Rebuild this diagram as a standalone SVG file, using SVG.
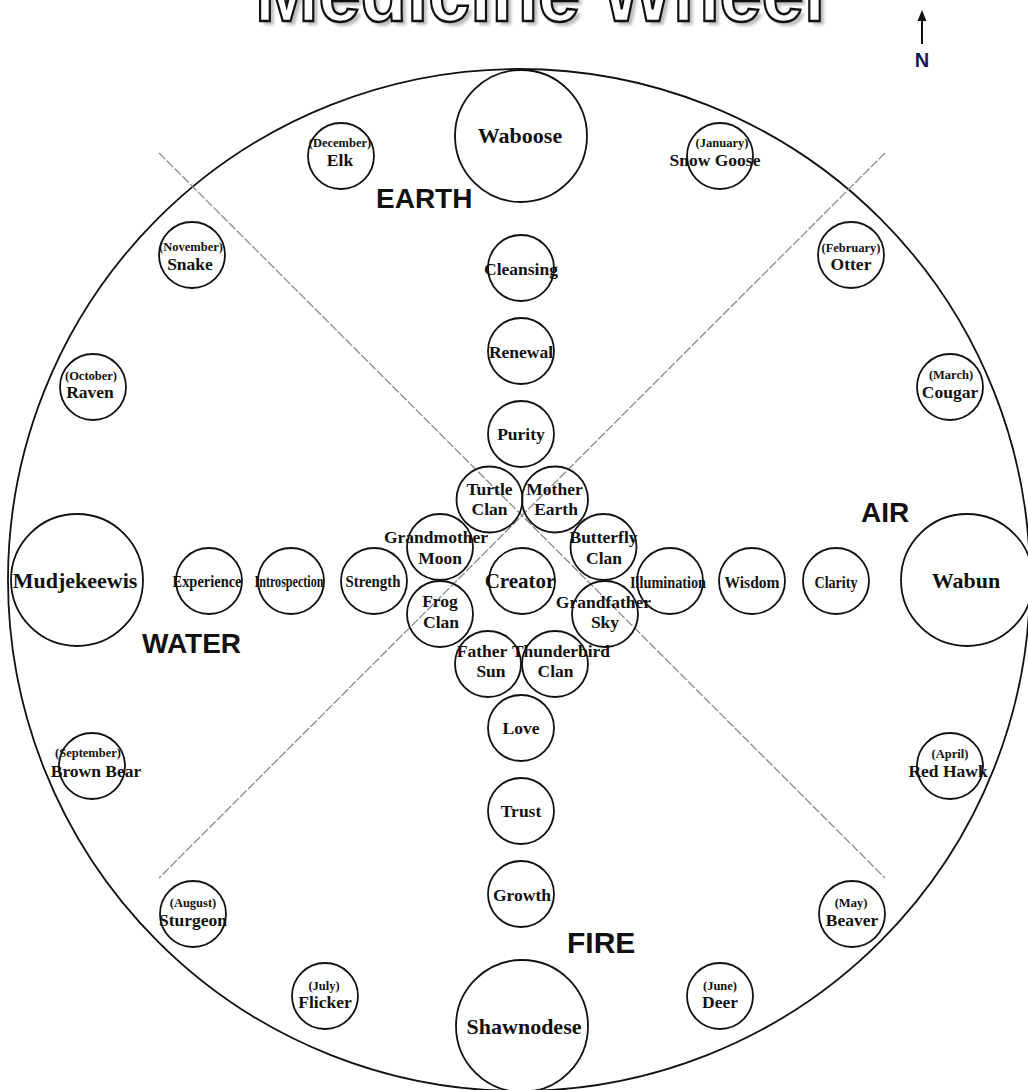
<svg xmlns="http://www.w3.org/2000/svg" width="1028" height="1090" viewBox="0 0 1028 1090">
<defs>
<style>
.c{fill:none;stroke:#111;stroke-width:1.8}
.t{font-family:"Liberation Serif","Times New Roman",serif;font-weight:bold;text-anchor:middle;fill:#111}
.big{font-size:22px}
.cl{font-size:17.5px}
.cr{font-size:21px}
.mo{font-size:12.5px}
.nm{font-size:17.5px}
.sq{font-size:17px}
.dir{font-family:"Liberation Sans",Arial,sans-serif;font-weight:bold;font-size:28px;fill:#111}
.ax{stroke:#8a8a8a;stroke-width:1.3;stroke-dasharray:9 2;fill:none}
.ttl{font-family:"Liberation Sans",Arial,sans-serif;font-weight:bold;font-size:86px;text-anchor:middle}
</style>
<filter id="blur" x="-5%" y="-20%" width="110%" height="140%"><feGaussianBlur stdDeviation="1.5"/></filter>
</defs>
<rect width="1028" height="1090" fill="#fff"/>

<g id="title">
<text class="ttl" x="544" y="25" fill="#bcbcbc" filter="url(#blur)" textLength="570" lengthAdjust="spacingAndGlyphs">Medicine Wheel</text>
<text class="ttl" x="540" y="21" fill="#fff" stroke="#111" stroke-width="2.5" textLength="570" lengthAdjust="spacingAndGlyphs">Medicine Wheel</text>
</g>

<g id="north">
<line x1="922" y1="44" x2="922" y2="18" stroke="#111" stroke-width="2"/>
<path d="M917.5,21 L922,10 L926.5,21 Z" fill="#111"/>
<text x="922" y="67" font-family="Liberation Sans,Arial,sans-serif" font-weight="bold" font-size="20" text-anchor="middle" fill="#16165c">N</text>
</g>

<g id="wheel">
<circle class="c" cx="519" cy="580" r="511"/>
</g>

<g id="connectors">
<line class="ax" x1="159" y1="153" x2="885" y2="878"/>
<line class="ax" x1="885" y1="153" x2="159" y2="878"/>
</g>

<g id="directions">
<text class="dir" x="376" y="208">EARTH</text>
<text class="dir" x="142" y="653">WATER</text>
<text class="dir" x="567" y="953" style="font-size:30px">FIRE</text>
<text class="dir" x="861" y="522">AIR</text>
</g>

<g id="waboose"><circle class="c" cx="521" cy="136" r="66"/><text class="t big" x="520" y="143">Waboose</text></g>
<g id="shawnodese"><circle class="c" cx="522" cy="1026" r="66"/><text class="t big" x="524" y="1034">Shawnodese</text></g>
<g id="mudjekeewis"><circle class="c" cx="77" cy="580" r="66"/><text class="t big" x="75" y="588">Mudjekeewis</text></g>
<g id="wabun"><circle class="c" cx="967" cy="580" r="66"/><text class="t big" x="966" y="588">Wabun</text></g>

<g id="elk"><circle class="c" cx="341" cy="156" r="33"/><text class="t mo" x="340" y="147">(December)</text><text class="t nm" x="340" y="166">Elk</text></g>
<g id="snowgoose"><circle class="c" cx="720" cy="156" r="33"/><text class="t mo" x="722" y="147">(January)</text><text class="t nm" x="715" y="166">Snow Goose</text></g>
<g id="snake"><circle class="c" cx="192" cy="255" r="33"/><text class="t mo" x="191" y="251">(November)</text><text class="t nm" x="190" y="270">Snake</text></g>
<g id="otter"><circle class="c" cx="851" cy="255" r="33"/><text class="t mo" x="851" y="252">(February)</text><text class="t nm" x="851" y="270">Otter</text></g>
<g id="raven"><circle class="c" cx="93" cy="387" r="33"/><text class="t mo" x="91" y="380">(October)</text><text class="t nm" x="90" y="398">Raven</text></g>
<g id="cougar"><circle class="c" cx="950" cy="387" r="33"/><text class="t mo" x="951" y="379">(March)</text><text class="t nm" x="950" y="398">Cougar</text></g>
<g id="brownbear"><circle class="c" cx="92" cy="766" r="33"/><text class="t mo" x="88" y="757">(September)</text><text class="t nm" x="96" y="777">Brown Bear</text></g>
<g id="redhawk"><circle class="c" cx="950" cy="766" r="33"/><text class="t mo" x="950" y="758">(April)</text><text class="t nm" x="948" y="777">Red Hawk</text></g>
<g id="sturgeon"><circle class="c" cx="193" cy="914" r="33"/><text class="t mo" x="193" y="907">(August)</text><text class="t nm" x="193" y="926">Sturgeon</text></g>
<g id="beaver"><circle class="c" cx="852" cy="914" r="33"/><text class="t mo" x="851" y="907">(May)</text><text class="t nm" x="852" y="926">Beaver</text></g>
<g id="flicker"><circle class="c" cx="325" cy="996" r="33"/><text class="t mo" x="324" y="990">(July)</text><text class="t nm" x="325" y="1008">Flicker</text></g>
<g id="deer"><circle class="c" cx="720" cy="996" r="33"/><text class="t mo" x="720" y="990">(June)</text><text class="t nm" x="720" y="1008">Deer</text></g>

<g id="cleansing"><circle class="c" cx="521" cy="268" r="33"/><text class="t cl" x="521" y="275">Cleansing</text></g>
<g id="renewal"><circle class="c" cx="521" cy="351" r="33"/><text class="t cl" x="521" y="358">Renewal</text></g>
<g id="purity"><circle class="c" cx="521" cy="434" r="33"/><text class="t cl" x="521" y="440">Purity</text></g>
<g id="love"><circle class="c" cx="521" cy="728" r="33"/><text class="t cl" x="521" y="734">Love</text></g>
<g id="trust"><circle class="c" cx="521" cy="811" r="33"/><text class="t cl" x="521" y="817">Trust</text></g>
<g id="growth"><circle class="c" cx="521" cy="894" r="33"/><text class="t cl" x="522" y="901">Growth</text></g>

<g id="experience"><circle class="c" cx="209" cy="581" r="33"/><text class="t sq" x="207" y="587" textLength="69" lengthAdjust="spacingAndGlyphs">Experience</text></g>
<g id="introspection"><circle class="c" cx="291" cy="581" r="33"/><text class="t sq" x="289" y="587" textLength="69" lengthAdjust="spacingAndGlyphs">Introspection</text></g>
<g id="strength"><circle class="c" cx="374" cy="581" r="33"/><text class="t sq" x="373" y="587" textLength="55" lengthAdjust="spacingAndGlyphs">Strength</text></g>
<g id="illumination"><circle class="c" cx="670" cy="581" r="33"/><text class="t sq" x="668" y="588" textLength="76" lengthAdjust="spacingAndGlyphs">Illumination</text></g>
<g id="wisdom"><circle class="c" cx="752" cy="581" r="33"/><text class="t sq" x="752" y="588" textLength="55" lengthAdjust="spacingAndGlyphs">Wisdom</text></g>
<g id="clarity"><circle class="c" cx="836" cy="581" r="33"/><text class="t sq" x="836" y="588" textLength="43" lengthAdjust="spacingAndGlyphs">Clarity</text></g>

<g id="creator"><circle class="c" cx="522" cy="581" r="33"/><text class="t cr" x="520" y="588">Creator</text></g>
<g id="turtleclan"><circle class="c" cx="489.5" cy="499.5" r="33"/><text class="t cl" x="489.5" y="495">Turtle</text><text class="t cl" x="489.5" y="515">Clan</text></g>
<g id="motherearth"><circle class="c" cx="555" cy="499.5" r="33"/><text class="t cl" x="554.5" y="495">Mother</text><text class="t cl" x="556" y="515">Earth</text></g>
<g id="grandmothermoon"><circle class="c" cx="440" cy="547" r="33"/><text class="t cl" x="436" y="543">Grandmother</text><text class="t cl" x="440" y="564">Moon</text></g>
<g id="butterflyclan"><circle class="c" cx="603.5" cy="547" r="33"/><text class="t cl" x="603.5" y="543">Butterfly</text><text class="t cl" x="604" y="564">Clan</text></g>
<g id="frogclan"><circle class="c" cx="440" cy="614" r="33"/><text class="t cl" x="440" y="607">Frog</text><text class="t cl" x="441" y="628">Clan</text></g>
<g id="grandfathersky"><circle class="c" cx="605" cy="614" r="33"/><text class="t cl" x="603.5" y="608">Grandfather</text><text class="t cl" x="605" y="628">Sky</text></g>
<g id="fathersun"><circle class="c" cx="488" cy="664" r="33"/><text class="t cl" x="482" y="657">Father</text><text class="t cl" x="491" y="677">Sun</text></g>
<g id="thunderbirdclan"><circle class="c" cx="555" cy="664" r="33"/><text class="t cl" x="561" y="657">Thunderbird</text><text class="t cl" x="555.5" y="677">Clan</text></g>
</svg>
